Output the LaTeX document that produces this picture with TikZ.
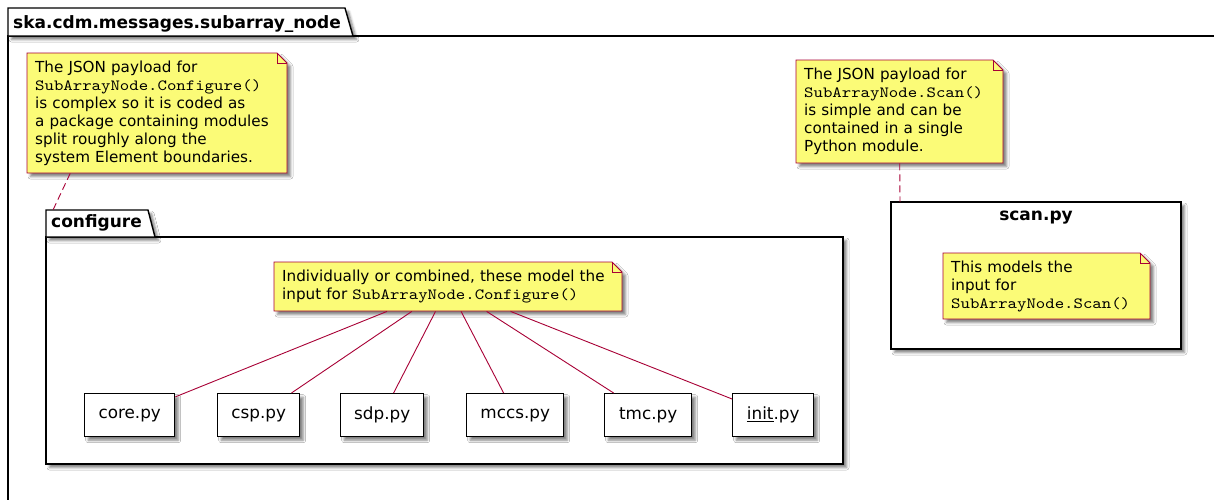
\documentclass[tikz,border=0pt]{standalone}
\usepackage{fontspec}
\setmainfont{DejaVu Sans}
\newfontfamily\codefont{lmmono10-regular}[Extension=.otf, FakeStretch=1.15]
\usetikzlibrary{shadows.blur}
\definecolor{notefill}{HTML}{FBFB77}
\definecolor{noteline}{HTML}{A80036}
\newcommand{\code}[1]{{\codefont\fontsize{15.6}{18}\selectfont #1}}
% note outline: x, y, width, height
\newcommand{\notebox}[4]{%
  \draw[noteshape] (#1,#2+#4) -- (#1,#2) -- (#1+#3-10,#2) -- (#1+#3,#2+10)
    -- (#1+#3,#2+#4) -- cycle;
  \draw[draw=noteline, line width=0.9pt] (#1+#3-10,#2) -- (#1+#3-10,#2+10) -- (#1+#3,#2+10);}
\begin{document}
\begin{tikzpicture}[x=1pt,y=-1pt,
  shad/.style={blur shadow={shadow xshift=3.5pt, shadow yshift=-3.5pt, shadow blur radius=2.5pt, shadow opacity=50}},
  pkgshape/.style={draw=black, line width=1.4pt, fill=white, shad},
  noteshape/.style={draw=noteline, line width=0.9pt, fill=notefill, shad},
  modbox/.style={draw=black, line width=1.4pt, fill=white, shad, minimum height=43pt, inner sep=0pt, anchor=north west, font=\fontsize{16.8}{20}\selectfont},
  notetext/.style={draw=none, anchor=north west, align=left, inner xsep=8pt, inner ysep=0pt, font=\fontsize{15.2}{18}\selectfont},
  link/.style={draw=noteline, line width=0.9pt},
  dashlink/.style={link, dash pattern=on 7pt off 4pt},
  pkgtitle/.style={font=\fontsize{17}{20}\selectfont\bfseries, inner sep=0pt}]
\useasboundingbox (0,0) rectangle (1214,499);

% outer package
\draw[pkgshape] (8,36) rectangle (1240,530);
\draw[pkgshape] (8,36) -- (8,8) -- (345,8) -- (353,36) -- cycle;
\node[pkgtitle, anchor=base west] (outertitle) at (13,28) {ska.cdm.messages.subarray\_node};

% configure package
\draw[pkgshape] (46,237) rectangle (843,464);
\draw[pkgshape] (46,237) -- (46,210) -- (148,210) -- (155,237) -- cycle;
\node[pkgtitle, anchor=base west] (cfgtitle) at (51,227) {configure};
\coordinate (cfgtop) at (53,210);

% scan.py module
\draw[pkgshape] (891,202) rectangle (1181,349);
\node[pkgtitle, anchor=base] (scantitle) at (1036,220) {scan.py};
\coordinate (scantop) at (900,202);

% notes
\notebox{27}{53}{260}{120}
\node[notetext, text width=244pt, minimum height=120pt] (n1) at (27,53)
  {The JSON payload for\\ \code{SubArrayNode.Configure()}\\ is complex so it is coded as\\ a package containing modules\\ split roughly along the\\ system Element boundaries.};
\notebox{796}{60}{207}{103}
\node[notetext, text width=191pt, minimum height=103pt] (n2) at (796,60)
  {The JSON payload for\\ \code{SubArrayNode.Scan()}\\ is simple and can be\\ contained in a single\\ Python module.};
\notebox{274}{262}{348}{49}
\node[notetext, text width=332pt, minimum height=49pt] (inote) at (274,262)
  {Individually or combined, these model the\\ input for \code{SubArrayNode.Configure()}};
\notebox{943}{253}{207}{66}
\node[notetext, text width=191pt, minimum height=66pt] (snote) at (943,253)
  {This models the\\ input for\\ \code{SubArrayNode.Scan()}};

% modules
\node[modbox, minimum width=90pt] (core) at (84,393) {\raisebox{-1.5pt}{core.py}};
\node[modbox, minimum width=82pt] (csp) at (217,393) {\raisebox{-1.5pt}{csp.py}};
\node[modbox, minimum width=83pt] (sdp) at (340,393) {\raisebox{-1.5pt}{sdp.py}};
\node[modbox, minimum width=97pt] (mccs) at (466,393) {\raisebox{-1.5pt}{mccs.py}};
\node[modbox, minimum width=87pt] (tmc) at (604,393) {\raisebox{-1.5pt}{tmc.py}};
\node[modbox, minimum width=81pt] (init) at (732,393) {\raisebox{-1.5pt}{\underline{init}.py}};

% connectors
\draw[dashlink] ([xshift=-87pt]n1.south) -- (cfgtop);
\draw[dashlink] (n2.south) -- (scantop);
\foreach \m in {core,csp,sdp,mccs,tmc,init}
  \draw[link] (inote) -- (\m);
\end{tikzpicture}
\end{document}
